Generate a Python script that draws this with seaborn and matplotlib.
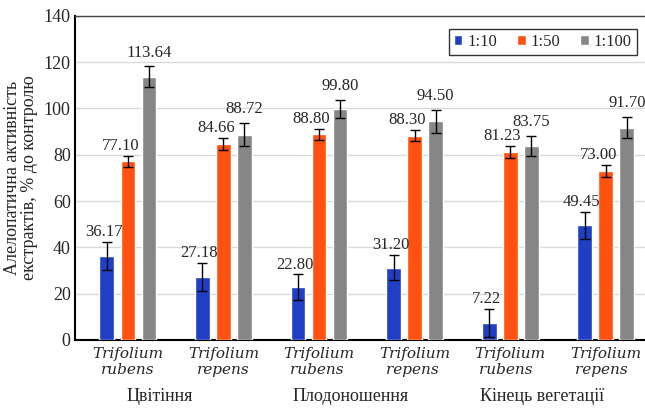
import pandas as pd
import numpy as np
import matplotlib.pyplot as plt
import seaborn as sns

# data
groups = ['Trifolium\nrubens', 'Trifolium\nrepens', 'Trifolium\nrubens ',
          'Trifolium\nrepens ', 'Trifolium\nrubens  ', 'Trifolium\nrepens  ']
phases = ['Цвітіння', 'Плодоношення', 'Кінець вегетації']
dilutions = ['1:10', '1:50', '1:100']
vals_10 = [36.17, 27.18, 22.80, 31.20, 7.22, 49.45]
vals_50 = [77.10, 84.66, 88.80, 88.30, 81.23, 73.00]
vals_100 = [113.64, 88.72, 99.80, 94.50, 83.75, 91.70]
err_10 = [6.0, 6.0, 5.5, 5.5, 6.0, 6.0]
err_50 = [2.5, 2.5, 2.5, 2.5, 2.5, 2.5]
err_100 = [4.5, 5.0, 4.0, 5.0, 4.5, 4.5]
colors = ['#1f40c4', '#ff5210', '#868686']

df = pd.DataFrame({
    'group': groups * 3,
    'dilution': np.repeat(dilutions, len(groups)),
    'value': vals_10 + vals_50 + vals_100,
    'err': err_10 + err_50 + err_100,
})

sns.set_style('white')
plt.rcParams['font.family'] = ['Liberation Serif', 'DejaVu Serif']

fig = plt.figure(figsize=(6.45, 4.08), dpi=100)
ax = fig.add_axes([0.116, 0.167, 0.884, 0.794])

sns.barplot(data=df, x='group', y='value', hue='dilution', palette=colors,
            saturation=1, width=0.66, gap=0.3, errorbar=None, ax=ax, zorder=3)

# label offsets (x in category units, y in data units) per dilution
label_dx = {'1:10': -0.03, '1:50': -0.08, '1:100': 0.0}
label_dy = {'1:10': 0.8, '1:50': 0.8, '1:100': 2.5}
for cont, dil in zip(ax.containers, dilutions):
    sub = df[df['dilution'] == dil]
    for patch, v, e in zip(cont, sub['value'], sub['err']):
        xc = patch.get_x() + patch.get_width() / 2
        ax.errorbar(xc, v, yerr=e, fmt='none', ecolor='black', elinewidth=1,
                    capsize=3.5, capthick=1, zorder=4)
        ax.text(xc + label_dx[dil], v + e + label_dy[dil], f'{v:.2f}',
                ha='center', va='bottom', fontsize=12, zorder=5)

ax.set_ylim(0, 140)
ax.set_yticks(range(0, 141, 20))
ax.set_xlim(-0.555, 5.41)
ax.yaxis.grid(True, color='#d9d9d9', lw=1, zorder=0)
ax.set_axisbelow(True)
ax.tick_params(axis='y', labelsize=13, length=0, pad=3)
ax.tick_params(axis='x', length=0, pad=5)
ax.set_xticks(range(len(groups)))
ax.set_xticklabels(groups, fontsize=11, family='DejaVu Serif',
                   style='italic', linespacing=1.2)
ax.set_xlabel('')
ax.set_ylabel('Алелопатична активність\nекстрактів, % до контролю',
              fontsize=13, linespacing=1.0, labelpad=4)

for s in ['left', 'bottom']:
    ax.spines[s].set_color('black')
    ax.spines[s].set_linewidth(1.5)
ax.spines['top'].set_color('#444444')
ax.spines['top'].set_linewidth(1.0)
ax.spines['right'].set_visible(False)

for i, ph in enumerate(phases):
    ax.text(2 * i + 0.33, -0.148, ph, transform=ax.get_xaxis_transform(),
            ha='center', va='top', fontsize=13)

ax.legend(loc='upper right', bbox_to_anchor=(1.0, 0.985), ncol=3, fontsize=12,
          frameon=True, fancybox=False, edgecolor='black', handlelength=0.5,
          handleheight=0.5, handletextpad=0.3, columnspacing=1.2,
          borderpad=0.3, title=None)

plt.savefig('out.png', dpi=100)
